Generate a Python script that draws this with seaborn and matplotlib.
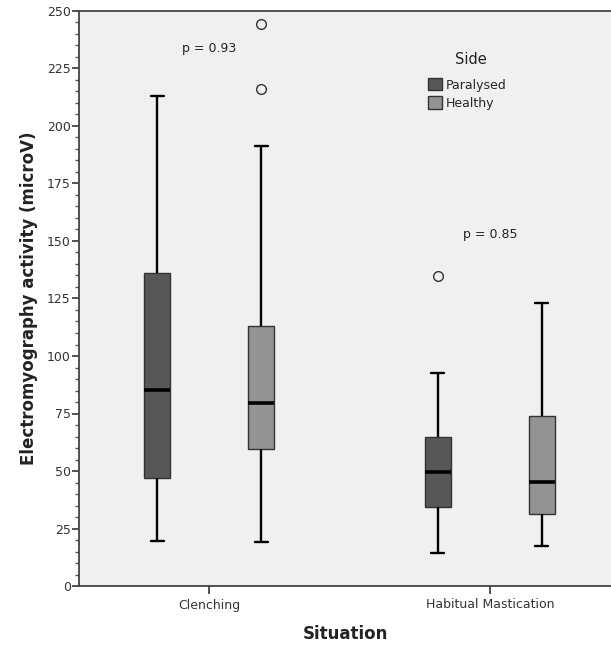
import matplotlib
matplotlib.use("Agg")
import matplotlib.pyplot as plt
from matplotlib.ticker import MultipleLocator
import pandas as pd
import seaborn as sns

# values; each list reproduces the drawn quartiles,
# whisker ends and outliers (repeated values hold the quartile positions)
situations = ["Clenching", "Habitual Mastication"]
sides = ["Paralysed", "Healthy"]
clench_paralysed = [19.5, 47.1, 85.2, 136.0, 213.0]
clench_healthy = [19.3, 59.7, 59.7, 59.7, 79.7, 79.7, 79.7, 79.7, 79.7,
                  113.0, 191.5, 216.0, 244.3]
mast_paralysed = [14.5, 34.5, 34.5, 49.7, 49.7, 64.6, 64.6, 92.7, 134.8]
mast_healthy = [17.4, 31.2, 45.4, 73.9, 122.9]
p_values = ["p = 0.93", "p = 0.85"]
p_heights = [233.5, 153]
side_colors = ["#575757", "#939393"]

groups = [(situations[0], sides[0], clench_paralysed),
          (situations[0], sides[1], clench_healthy),
          (situations[1], sides[0], mast_paralysed),
          (situations[1], sides[1], mast_healthy)]
rows = []
for sit, side, vals in groups:
    for v in vals:
        rows.append({"Situation": sit, "Side": side, "emg": v})
df = pd.DataFrame(rows)

sns.set_style("white")
plt.rcParams["font.family"] = ["DejaVu Sans"]

fig = plt.figure(figsize=(6.11, 6.49), dpi=100)
ax = fig.add_axes([79 / 611, 63 / 649, 532 / 611, 575 / 649])
ax.set_facecolor("#f0f0f0")

sns.boxplot(data=df, x="Situation", y="emg", hue="Side",
            order=situations, hue_order=sides, palette=side_colors,
            saturation=1, width=0.74, gap=0.75, whis=1.5, ax=ax,
            boxprops=dict(edgecolor="#333333", linewidth=1.0),
            medianprops=dict(color="black", linewidth=2.6),
            whiskerprops=dict(color="black", linewidth=1.7),
            capprops=dict(color="black", linewidth=1.7),
            flierprops=dict(marker="o", markerfacecolor="none",
                            markeredgecolor="#333333", markersize=7,
                            markeredgewidth=1.0))

# p-value annotations above each situation
for i, txt in enumerate(p_values):
    ax.text(i, p_heights[i], txt, ha="center", va="center",
            fontsize=9, color="#222222")

ax.set_xlim(-0.463, 1.431)
ax.set_ylim(0, 250)
ax.yaxis.set_major_locator(MultipleLocator(25))
ax.yaxis.set_minor_locator(MultipleLocator(5))
ax.tick_params(axis="y", which="major", direction="out", length=5,
               width=1.2, color="#333333", labelsize=9, labelcolor="#333333",
               left=True, pad=1)
ax.tick_params(axis="y", which="minor", direction="out", length=3,
               width=1.0, color="#555555", left=True)
ax.tick_params(axis="x", direction="out", length=6, width=1.2,
               color="#333333", labelsize=9, labelcolor="#333333",
               bottom=True, pad=3)

for s in ["left", "bottom", "top"]:
    ax.spines[s].set_color("#444444")
    ax.spines[s].set_linewidth(1.3)
ax.spines["right"].set_visible(False)

ax.set_xlabel("Situation", fontsize=12, fontweight="bold", color="#222222",
              labelpad=10)
ax.set_ylabel("Electromyography activity (microV)", fontsize=12,
              fontweight="bold", color="#222222", labelpad=6)

# legend: title drawn as its own text so the gap matches the original
ax.text(0.737, 0.915, "Side", transform=ax.transAxes, ha="center",
        va="center", fontsize=10.5, color="#222222")
handles, labels = ax.get_legend_handles_labels()
leg = ax.legend(handles, labels, loc="upper left",
                bbox_to_anchor=(0.656, 0.883), frameon=False, fontsize=9,
                handlelength=1.12, handleheight=1.12,
                handletextpad=0.3, labelspacing=0.38, borderpad=0,
                borderaxespad=0)
for h in leg.legend_handles:
    h.set_edgecolor("#333333")
    h.set_linewidth(1.0)

fig.savefig("out.png", dpi=100)
